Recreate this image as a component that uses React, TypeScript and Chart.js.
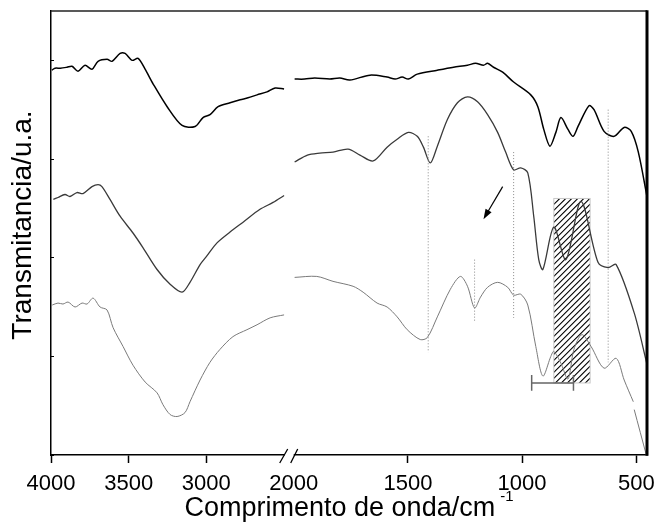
import React, { useEffect, useRef } from 'react';
import { Chart, registerables } from 'chart.js';
Chart.register(...registerables);

// ---- axis definitions (wavenumber, cm-1) ----
const xTicksLeft = [4000, 3500, 3000];
const xTicksRight = [2000, 1500, 1000, 500];
const yTicks = [0, 1, 2, 3, 4];
const leftRange = [2437, 4000];
const rightRange = [453, 2000];
const yRange = [0, 4.5];

// ---- spectra: [wavenumber, transmittance (a.u.)] ----
const topLeft: [number, number][] = [
  [3995, 3.90], [3974, 3.92], [3940, 3.92], [3897, 3.93], [3865, 3.94], [3826, 3.89], [3781, 3.95],
  [3736, 3.91], [3697, 3.99], [3639, 4.01], [3607, 3.99], [3555, 4.07], [3523, 4.07], [3478, 4.00],
  [3439, 4.02], [3394, 3.91], [3342, 3.76], [3252, 3.53], [3156, 3.34], [3072, 3.33], [3021, 3.42],
  [2976, 3.45], [2924, 3.53], [2847, 3.57], [2782, 3.60], [2731, 3.62], [2673, 3.65], [2609, 3.68],
  [2557, 3.72], [2499, 3.71],
];
const topRight: [number, number][] = [
  [1996, 3.81], [1952, 3.81], [1908, 3.82], [1842, 3.81], [1798, 3.82], [1754, 3.80], [1666, 3.85],
  [1591, 3.83], [1556, 3.81], [1525, 3.83], [1498, 3.81], [1459, 3.86], [1371, 3.90], [1300, 3.93],
  [1239, 3.95], [1204, 3.97], [1169, 3.95], [1151, 3.97], [1125, 3.93], [1085, 3.88], [1037, 3.78],
  [962, 3.65], [931, 3.53], [905, 3.30], [878, 3.13], [852, 3.27], [830, 3.42], [799, 3.30],
  [777, 3.23], [755, 3.33], [707, 3.54], [685, 3.50], [641, 3.28], [597, 3.23], [553, 3.32],
  [522, 3.28], [491, 3.07], [453, 2.62],
];
const midLeft: [number, number][] = [
  [3985, 2.59], [3955, 2.61], [3910, 2.64], [3878, 2.62], [3833, 2.66], [3794, 2.65], [3736, 2.72],
  [3697, 2.74], [3672, 2.72], [3620, 2.59], [3555, 2.42], [3472, 2.25], [3407, 2.10], [3317, 1.88],
  [3233, 1.73], [3156, 1.65], [3105, 1.75], [3040, 1.93], [2995, 2.02], [2931, 2.15], [2847, 2.26],
  [2763, 2.36], [2654, 2.49], [2570, 2.56], [2499, 2.63],
];
const midRight: [number, number][] = [
  [1996, 2.97], [1940, 3.04], [1886, 3.06], [1828, 3.07], [1762, 3.10], [1710, 3.04], [1652, 2.98],
  [1591, 3.12], [1547, 3.20], [1498, 3.27], [1459, 3.23], [1432, 3.12], [1402, 2.96], [1371, 3.13],
  [1327, 3.40], [1283, 3.57], [1239, 3.63], [1195, 3.58], [1151, 3.45], [1107, 3.27], [1072, 3.07],
  [1037, 2.89], [1006, 2.91], [975, 2.86], [949, 2.42], [927, 1.98], [909, 1.88], [861, 2.31],
  [808, 1.98], [742, 2.57], [667, 1.95], [623, 1.90], [588, 1.93], [509, 1.44], [453, 0.92],
];
const botLeft: [number, number][] = [
  [3992, 1.52], [3955, 1.54], [3923, 1.53], [3890, 1.55], [3845, 1.50], [3800, 1.54], [3768, 1.53],
  [3729, 1.59], [3684, 1.50], [3639, 1.47], [3600, 1.29], [3536, 1.10], [3472, 0.91], [3394, 0.74],
  [3317, 0.63], [3279, 0.51], [3233, 0.41], [3188, 0.39], [3137, 0.43], [3105, 0.54], [3040, 0.76],
  [2976, 0.94], [2912, 1.07], [2828, 1.20], [2738, 1.27], [2673, 1.32], [2589, 1.39], [2499, 1.42],
];
const botRight: [number, number | null][] = [
  [1996, 1.80], [1899, 1.81], [1828, 1.76], [1740, 1.71], [1696, 1.65], [1635, 1.54], [1591, 1.50],
  [1547, 1.40], [1503, 1.27], [1446, 1.17], [1415, 1.19], [1371, 1.40], [1314, 1.68], [1270, 1.81],
  [1239, 1.71], [1208, 1.49], [1182, 1.60], [1151, 1.70], [1107, 1.75], [1063, 1.70], [1037, 1.62],
  [1006, 1.63], [975, 1.52], [940, 1.10], [909, 0.80], [874, 1.00], [861, 1.05], [830, 0.93],
  [799, 0.77], [773, 1.07], [738, 1.22], [698, 1.10], [641, 0.88], [588, 0.98], [553, 0.76],
  [513, 0.54], [511, null], [509, 0.46], [456, 0.0],
];

// ---- annotations ----
const markerWn = [1411, 1208, 1037, 623];
const markerTop = [3.23, 1.98, 3.07, 3.50];
const markerBottom = [1.04, 1.35, 1.39, 0.94];
const hatchWn = [861, 702];
const hatchV = [0.73, 2.60];
const arrowWn = [1085, 1169];
const arrowV = [2.72, 2.39];
const errWn = [958, 775];
const errV = 0.73;
const errCap = 0.08;

const FONT = '"Liberation Sans", Arial, Helvetica, sans-serif';

const mk = (pairs: [number, number | null][]) => pairs.map(([x, y]) => ({ x, y }));

const decor = {
  id: 'decor',
  beforeDatasetsDraw(chart: any) {
    const { ctx, scales } = chart;
    const xs = scales.x2, ys = scales.y;
    const l = xs.getPixelForValue(hatchWn[0]);
    const r = xs.getPixelForValue(hatchWn[1]);
    const t = ys.getPixelForValue(hatchV[1]);
    const b = ys.getPixelForValue(hatchV[0]);
    const w = r - l, h = b - t;
    ctx.save();
    ctx.beginPath();
    ctx.rect(l, t, w, h);
    ctx.clip();
    ctx.strokeStyle = '#000';
    ctx.lineWidth = 1.1;
    ctx.beginPath();
    for (let k = 0; k < h + w + 6; k += 6) {
      ctx.moveTo(l, t + k);
      ctx.lineTo(r, t + k - w);
    }
    ctx.stroke();
    ctx.restore();
    ctx.save();
    ctx.strokeStyle = '#c8c8c8';
    ctx.lineWidth = 1;
    ctx.strokeRect(l, t, w, h);
    ctx.restore();
  },
  afterDraw(chart: any) {
    const { ctx, scales, chartArea } = chart;
    const xs = scales.x2, ys = scales.y;
    const { left, right, top, bottom } = chartArea;
    ctx.save();
    // frame top & right
    ctx.strokeStyle = '#222';
    ctx.lineWidth = 1.5;
    ctx.beginPath();
    ctx.moveTo(left, top);
    ctx.lineTo(right, top);
    ctx.stroke();
    ctx.strokeStyle = '#000';
    ctx.lineWidth = 3;
    ctx.beginPath();
    ctx.moveTo(right, top - 0.75);
    ctx.lineTo(right, bottom + 0.75);
    ctx.stroke();

    // axis break
    const bx = scales.x1.right;
    ctx.fillStyle = '#fff';
    ctx.fillRect(bx - 9, bottom - 2, 9, 4);
    ctx.strokeStyle = '#000';
    ctx.lineWidth = 1.3;
    ctx.beginPath();
    ctx.moveTo(bx - 14, bottom + 8);
    ctx.lineTo(bx - 6, bottom - 6);
    ctx.moveTo(bx - 3, bottom + 8);
    ctx.lineTo(bx + 4, bottom - 6);
    ctx.stroke();

    // arrow
    const ax0 = xs.getPixelForValue(arrowWn[0]), ay0 = ys.getPixelForValue(arrowV[0]);
    const ax1 = xs.getPixelForValue(arrowWn[1]), ay1 = ys.getPixelForValue(arrowV[1]);
    const ang = Math.atan2(ay1 - ay0, ax1 - ax0);
    ctx.strokeStyle = '#000';
    ctx.fillStyle = '#000';
    ctx.lineWidth = 1.2;
    ctx.beginPath();
    ctx.moveTo(ax0, ay0);
    ctx.lineTo(ax1 - 6 * Math.cos(ang), ay1 - 6 * Math.sin(ang));
    ctx.stroke();
    ctx.beginPath();
    ctx.moveTo(ax1, ay1);
    ctx.lineTo(ax1 - 10 * Math.cos(ang) + 3.5 * Math.sin(ang), ay1 - 10 * Math.sin(ang) - 3.5 * Math.cos(ang));
    ctx.lineTo(ax1 - 10 * Math.cos(ang) - 3.5 * Math.sin(ang), ay1 - 10 * Math.sin(ang) + 3.5 * Math.cos(ang));
    ctx.closePath();
    ctx.fill();

    // x title with superscript
    ctx.fillStyle = '#000';
    ctx.textBaseline = 'alphabetic';
    ctx.textAlign = 'left';
    const main = 'Comprimento de onda/cm';
    const sup = '-1';
    ctx.font = `27px ${FONT}`;
    const wMain = ctx.measureText(main).width;
    ctx.font = `15px ${FONT}`;
    const wSup = ctx.measureText(sup).width;
    const total = wMain + 5 + wSup;
    const sx = (left + right) / 2 - total / 2;
    ctx.font = `27px ${FONT}`;
    ctx.fillText(main, sx, 516);
    ctx.font = `15px ${FONT}`;
    ctx.fillText(sup, sx + wMain + 5, 501);

    // y title
    ctx.font = `28px ${FONT}`;
    ctx.textAlign = 'center';
    ctx.translate(31, 225);
    ctx.rotate(-Math.PI / 2);
    ctx.fillText('Transmitancia/u.a.', 0, 0);
    ctx.restore();
  },
};

const fitX = (s: any) => { s.height = 69; s.paddingLeft = 0; s.paddingRight = 0; };

export default function App() {
  const ref = useRef<HTMLCanvasElement | null>(null);
  useEffect(() => {
    if (!ref.current) return;
    const common = { pointRadius: 0, tension: 0.3, fill: false, yAxisID: 'y' };
    const markerSets = markerWn.map((wn, i) => ({
      data: [{ x: wn, y: markerTop[i] }, { x: wn, y: markerBottom[i] }],
      xAxisID: 'x2', yAxisID: 'y', borderColor: '#8a8a8a', borderWidth: 1, borderDash: [1, 2],
      pointRadius: 0, tension: 0, fill: false,
    }));
    const errSet = {
      data: [
        { x: errWn[0], y: errV + errCap }, { x: errWn[0], y: errV - errCap }, { x: errWn[0], y: errV },
        { x: errWn[1], y: errV }, { x: errWn[1], y: errV + errCap }, { x: errWn[1], y: errV - errCap },
      ],
      xAxisID: 'x2', yAxisID: 'y', borderColor: '#666', borderWidth: 1.5, pointRadius: 0, tension: 0, fill: false,
    };
    const tickFont = { family: FONT, size: 22 };
    const chart = new Chart(ref.current, {
      type: 'line',
      data: {
        datasets: [
          ...markerSets,
          { ...common, data: mk(botLeft), xAxisID: 'x1', borderColor: '#7a7a7a', borderWidth: 1 },
          { ...common, data: mk(botRight), xAxisID: 'x2', borderColor: '#7a7a7a', borderWidth: 1 },
          { ...common, data: mk(midLeft), xAxisID: 'x1', borderColor: '#3a3a3a', borderWidth: 1.3 },
          { ...common, data: mk(midRight), xAxisID: 'x2', borderColor: '#3a3a3a', borderWidth: 1.3 },
          { ...common, data: mk(topLeft), xAxisID: 'x1', borderColor: '#000', borderWidth: 1.5 },
          { ...common, data: mk(topRight), xAxisID: 'x2', borderColor: '#000', borderWidth: 1.5 },
          errSet,
        ] as any,
      },
      options: {
        animation: false,
        responsive: false,
        events: [],
        layout: { padding: { top: 11, right: 10, left: 0, bottom: 0 } },
        plugins: { legend: { display: false }, tooltip: { enabled: false } },
        scales: {
          x1: {
            type: 'linear', position: 'bottom', reverse: true,
            min: leftRange[0], max: leftRange[1],
            stack: 'wn', stackWeight: (leftRange[1] - leftRange[0]) * 0.1553,
            afterBuildTicks: (s: any) => { s.ticks = xTicksLeft.map((v) => ({ value: v })); },
            afterFit: fitX,
            ticks: { callback: (v: any) => String(v), autoSkip: false, maxRotation: 0, padding: 8, color: '#000', font: tickFont },
            grid: { drawOnChartArea: false, drawTicks: true, tickLength: 8, tickColor: '#000', tickWidth: 1.5 },
            border: { display: true, color: '#000', width: 1.5 },
          },
          x2: {
            type: 'linear', position: 'bottom', reverse: true,
            min: rightRange[0], max: rightRange[1],
            stack: 'wn', stackWeight: (rightRange[1] - rightRange[0]) * 0.2284,
            afterBuildTicks: (s: any) => { s.ticks = xTicksRight.map((v) => ({ value: v })); },
            afterFit: fitX,
            ticks: { callback: (v: any) => String(v), autoSkip: false, maxRotation: 0, padding: 8, color: '#000', font: tickFont },
            grid: {
              drawOnChartArea: false, drawTicks: true, tickLength: 8, tickWidth: 1.5,
              tickColor: (c: any) => (c.tick && c.tick.value === xTicksRight[0] ? 'rgba(0,0,0,0)' : '#000'),
            },
            border: { display: true, color: '#000', width: 1.5 },
          },
          y: {
            type: 'linear', position: 'left', min: yRange[0], max: yRange[1],
            afterBuildTicks: (s: any) => { s.ticks = yTicks.map((v) => ({ value: v })); },
            afterFit: (s: any) => { s.width = 51; s.paddingTop = 0; s.paddingBottom = 0; },
            ticks: { display: false },
            grid: { drawOnChartArea: false, drawTicks: true, tickLength: -3, tickColor: '#000', tickWidth: 1 },
            border: { display: true, color: '#000', width: 1.5 },
          },
        },
      } as any,
      plugins: [decor],
    });
    return () => chart.destroy();
  }, []);
  return (
    <div style={{ position: 'absolute', left: 0, top: 0, width: 657, height: 524, background: '#fff' }}>
      <canvas ref={ref} width={657} height={524} style={{ display: 'block' }} />
    </div>
  );
}
